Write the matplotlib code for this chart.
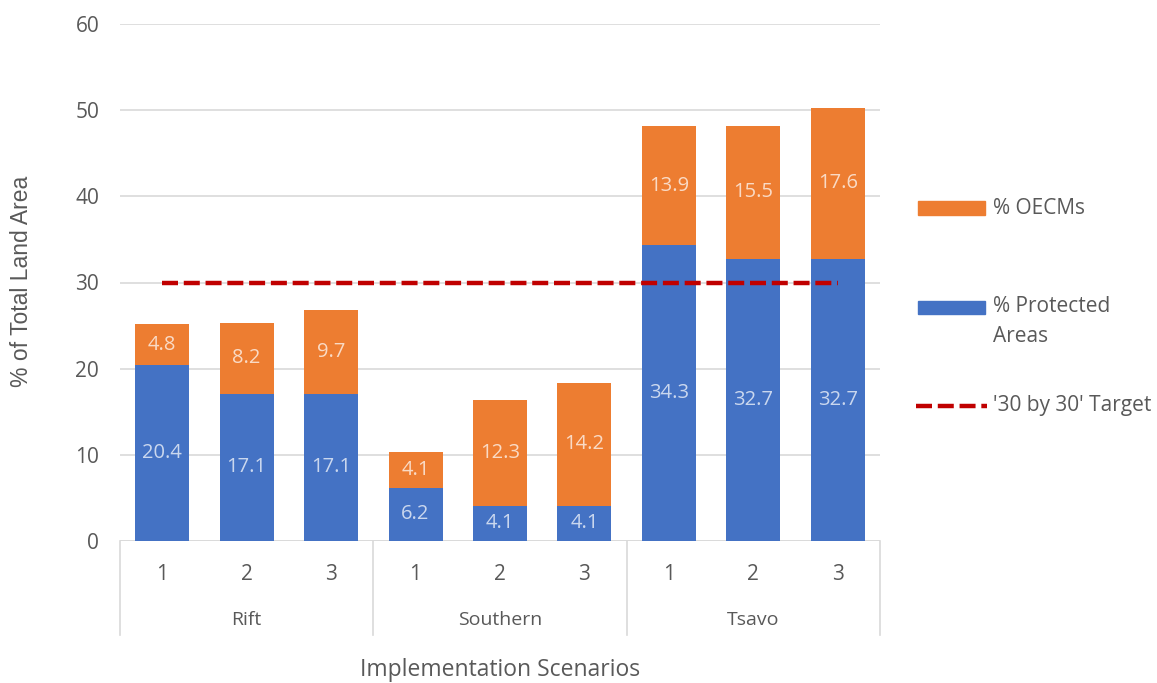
import matplotlib

matplotlib.use("Agg")
import matplotlib.pyplot as plt
import numpy as np
from matplotlib.lines import Line2D
from matplotlib.patches import Rectangle

plt.rcParams["font.family"] = ["Open Sans", "DejaVu Sans"]

groups = ["Rift", "Southern", "Tsavo"]
scenarios = ["1", "2", "3"]
protected = [20.4, 17.1, 17.1, 6.2, 4.1, 4.1, 34.3, 32.7, 32.7]
oecms = [4.8, 8.2, 9.7, 4.1, 12.3, 14.2, 13.9, 15.5, 17.6]
target = 30

BLUE = "#4472C4"
ORANGE = "#ED7D31"
RED = "#C00000"
GREY = "#595959"
GRID = "#D9D9D9"

W, H = 1157, 683
fig = plt.figure(figsize=(W / 100, H / 100), dpi=100)
ax = fig.add_axes([120 / W, (H - 541) / H, 760 / W, 517 / H])

x = np.arange(len(protected))
bw = 0.64
ax.bar(x, protected, bw, color=BLUE, zorder=2)
ax.bar(x, oecms, bw, bottom=protected, color=ORANGE, zorder=2)

for xi, p, o in zip(x, protected, oecms):
    ax.text(xi, p / 2, f"{p:.1f}", ha="center", va="center", fontsize=14.5,
            color="white", alpha=0.72, zorder=3)
    ax.text(xi, p + o / 2, f"{o:.1f}", ha="center", va="center", fontsize=14.5,
            color="white", alpha=0.72, zorder=3)

ax.plot([x[0], x[-1]], [target, target], color=RED, lw=3.2,
        linestyle=(0, (3.6, 1.3)), zorder=4)

ax.set_xlim(-0.5, len(x) - 0.5)
ax.set_ylim(0, 60)
ax.set_yticks(range(0, 61, 10))
ax.tick_params(axis="y", length=0, pad=15, labelsize=15, labelcolor=GREY)
ax.set_xticks([])
ax.grid(axis="y", color=GRID, lw=1.2, zorder=0)
for s in ax.spines.values():
    s.set_visible(False)
ax.axhline(0, color=GRID, lw=1.2, zorder=1)

# two-level category axis
trans = ax.get_xaxis_transform()
sep_bottom = -(635 - 541) / 517
for sx in [-0.5, 2.5, 5.5, 8.5]:
    ax.plot([sx, sx], [0, sep_bottom], color=GRID, lw=1.2, transform=trans, clip_on=False)
for i, g in enumerate(groups):
    for j, s in enumerate(scenarios):
        ax.text(i * 3 + j, -(575 - 541) / 517, s, transform=trans, ha="center",
                va="center", fontsize=15, color=GREY)
    ax.text(i * 3 + 1, -(620 - 541) / 517, g, transform=trans, ha="center",
            va="center", fontsize=14, color=GREY)

ax.text(4, -(670 - 541) / 517, "Implementation Scenarios", transform=trans,
        ha="center", va="center", fontsize=16.5, color=GREY)
fig.text(22 / W, (H - 281) / H, "% of Total Land Area", rotation=90, ha="center",
         va="center", fontsize=16.5, color=GREY, family=["Liberation Sans", "DejaVu Sans"])

# legend drawn in figure pixels
def fy(py):
    return (H - py) / H

ph = 13
for py, col in [(208, ORANGE), (307, BLUE)]:
    fig.patches.append(Rectangle((918 / W, fy(py + ph / 2)), 67 / W, ph / H,
                                 transform=fig.transFigure, color=col))
fig.lines.append(Line2D([916 / W, 987 / W], [fy(406), fy(406)], transform=fig.transFigure,
                        color=RED, lw=3.2, linestyle=(0, (3.6, 1.3))))
fs = 15
fig.text(993 / W, fy(208), "% OECMs", ha="left", va="center", fontsize=fs, color=GREY)
fig.text(993 / W, fy(307), "% Protected", ha="left", va="center", fontsize=fs, color=GREY)
fig.text(993 / W, fy(337), "Areas", ha="left", va="center", fontsize=fs, color=GREY)
fig.text(993 / W, fy(406), "'30 by 30' Target", ha="left", va="center", fontsize=fs, color=GREY)

fig.savefig("out.png", dpi=100, facecolor="white")
